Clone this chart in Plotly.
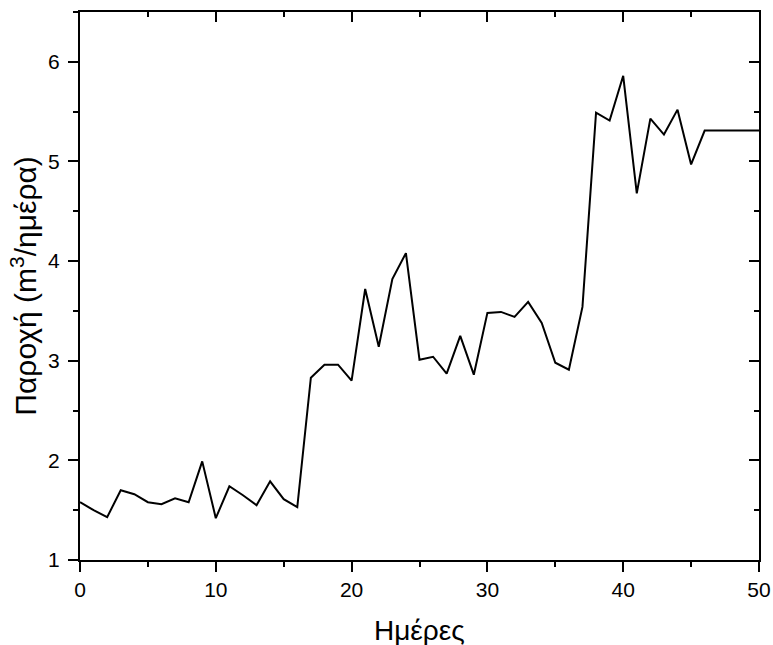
import plotly.graph_objects as go

days = list(range(0, 51))
flow = [1.58, 1.50, 1.43, 1.70, 1.66, 1.58, 1.56, 1.62, 1.58, 1.99,
        1.42, 1.74, 1.65, 1.55, 1.79, 1.61, 1.53, 2.83, 2.96, 2.96,
        2.80, 3.72, 3.14, 3.82, 4.08, 3.01, 3.04, 2.87, 3.25, 2.86,
        3.48, 3.49, 3.44, 3.59, 3.38, 2.98, 2.91, 3.54, 5.49, 5.41,
        5.86, 4.68, 5.43, 5.27, 5.52, 4.97, 5.31, 5.31, 5.31, 5.31, 5.31]

x_title = "Ημέρες"
y_title = "Παροχή (m<sup>3</sup>/ημέρα)"

FONT = "Liberation Sans, Arial, sans-serif"

fig = go.Figure()
fig.add_trace(go.Scatter(x=days, y=flow, mode="lines",
                         line=dict(color="black", width=2), showlegend=False))
# invisible trace bound to the mirror axes so they render
fig.add_trace(go.Scatter(x=days, y=flow, mode="lines", xaxis="x2", yaxis="y2",
                         line=dict(color="rgba(0,0,0,0)", width=0),
                         hoverinfo="skip", showlegend=False))

common = dict(showgrid=False, zeroline=False, showline=True, linecolor="black",
              linewidth=2, tickcolor="black", tickwidth=2, automargin=False)

fig.update_layout(
    width=773, height=645,
    margin=dict(l=80, r=14, t=12, b=85),
    paper_bgcolor="white", plot_bgcolor="white",
    font=dict(family=FONT, color="black"),
    xaxis=dict(range=[0, 50], dtick=10, tick0=0, ticks="outside", ticklen=10,
               tickfont=dict(size=21, family=FONT),
               minor=dict(dtick=5, tick0=0, ticks="outside", ticklen=5,
                          tickwidth=2, tickcolor="black"),
               **common),
    yaxis=dict(range=[1, 6.5], dtick=1, tick0=1, ticks="outside", ticklen=10,
               tickfont=dict(size=21, family=FONT), ticklabelstandoff=4,
               minor=dict(dtick=0.5, tick0=1, ticks="outside", ticklen=5,
                          tickwidth=2, tickcolor="black"),
               **common),
    xaxis2=dict(range=[0, 50], overlaying="x", side="top", anchor="y2",
                dtick=10, tick0=0, ticks="inside", ticklen=10,
                showticklabels=False,
                minor=dict(dtick=5, tick0=0, ticks="inside", ticklen=5,
                           tickwidth=2, tickcolor="black"),
                **common),
    yaxis2=dict(range=[1, 6.5], overlaying="y", side="right", anchor="x2",
                dtick=1, tick0=1, ticks="inside", ticklen=10,
                showticklabels=False,
                minor=dict(dtick=0.5, tick0=1, ticks="inside", ticklen=5,
                           tickwidth=2, tickcolor="black"),
                **common),
    annotations=[
        dict(text=x_title, xref="paper", yref="paper", x=0.5, y=-0.128,
             xanchor="center", yanchor="middle", showarrow=False,
             font=dict(size=28, family=FONT, color="black")),
        dict(text=y_title, xref="paper", yref="paper", x=-0.083, y=0.5,
             xanchor="center", yanchor="middle", showarrow=False, textangle=-90,
             font=dict(size=30, family=FONT, color="black")),
    ],
)

fig.write_html("out.html")
